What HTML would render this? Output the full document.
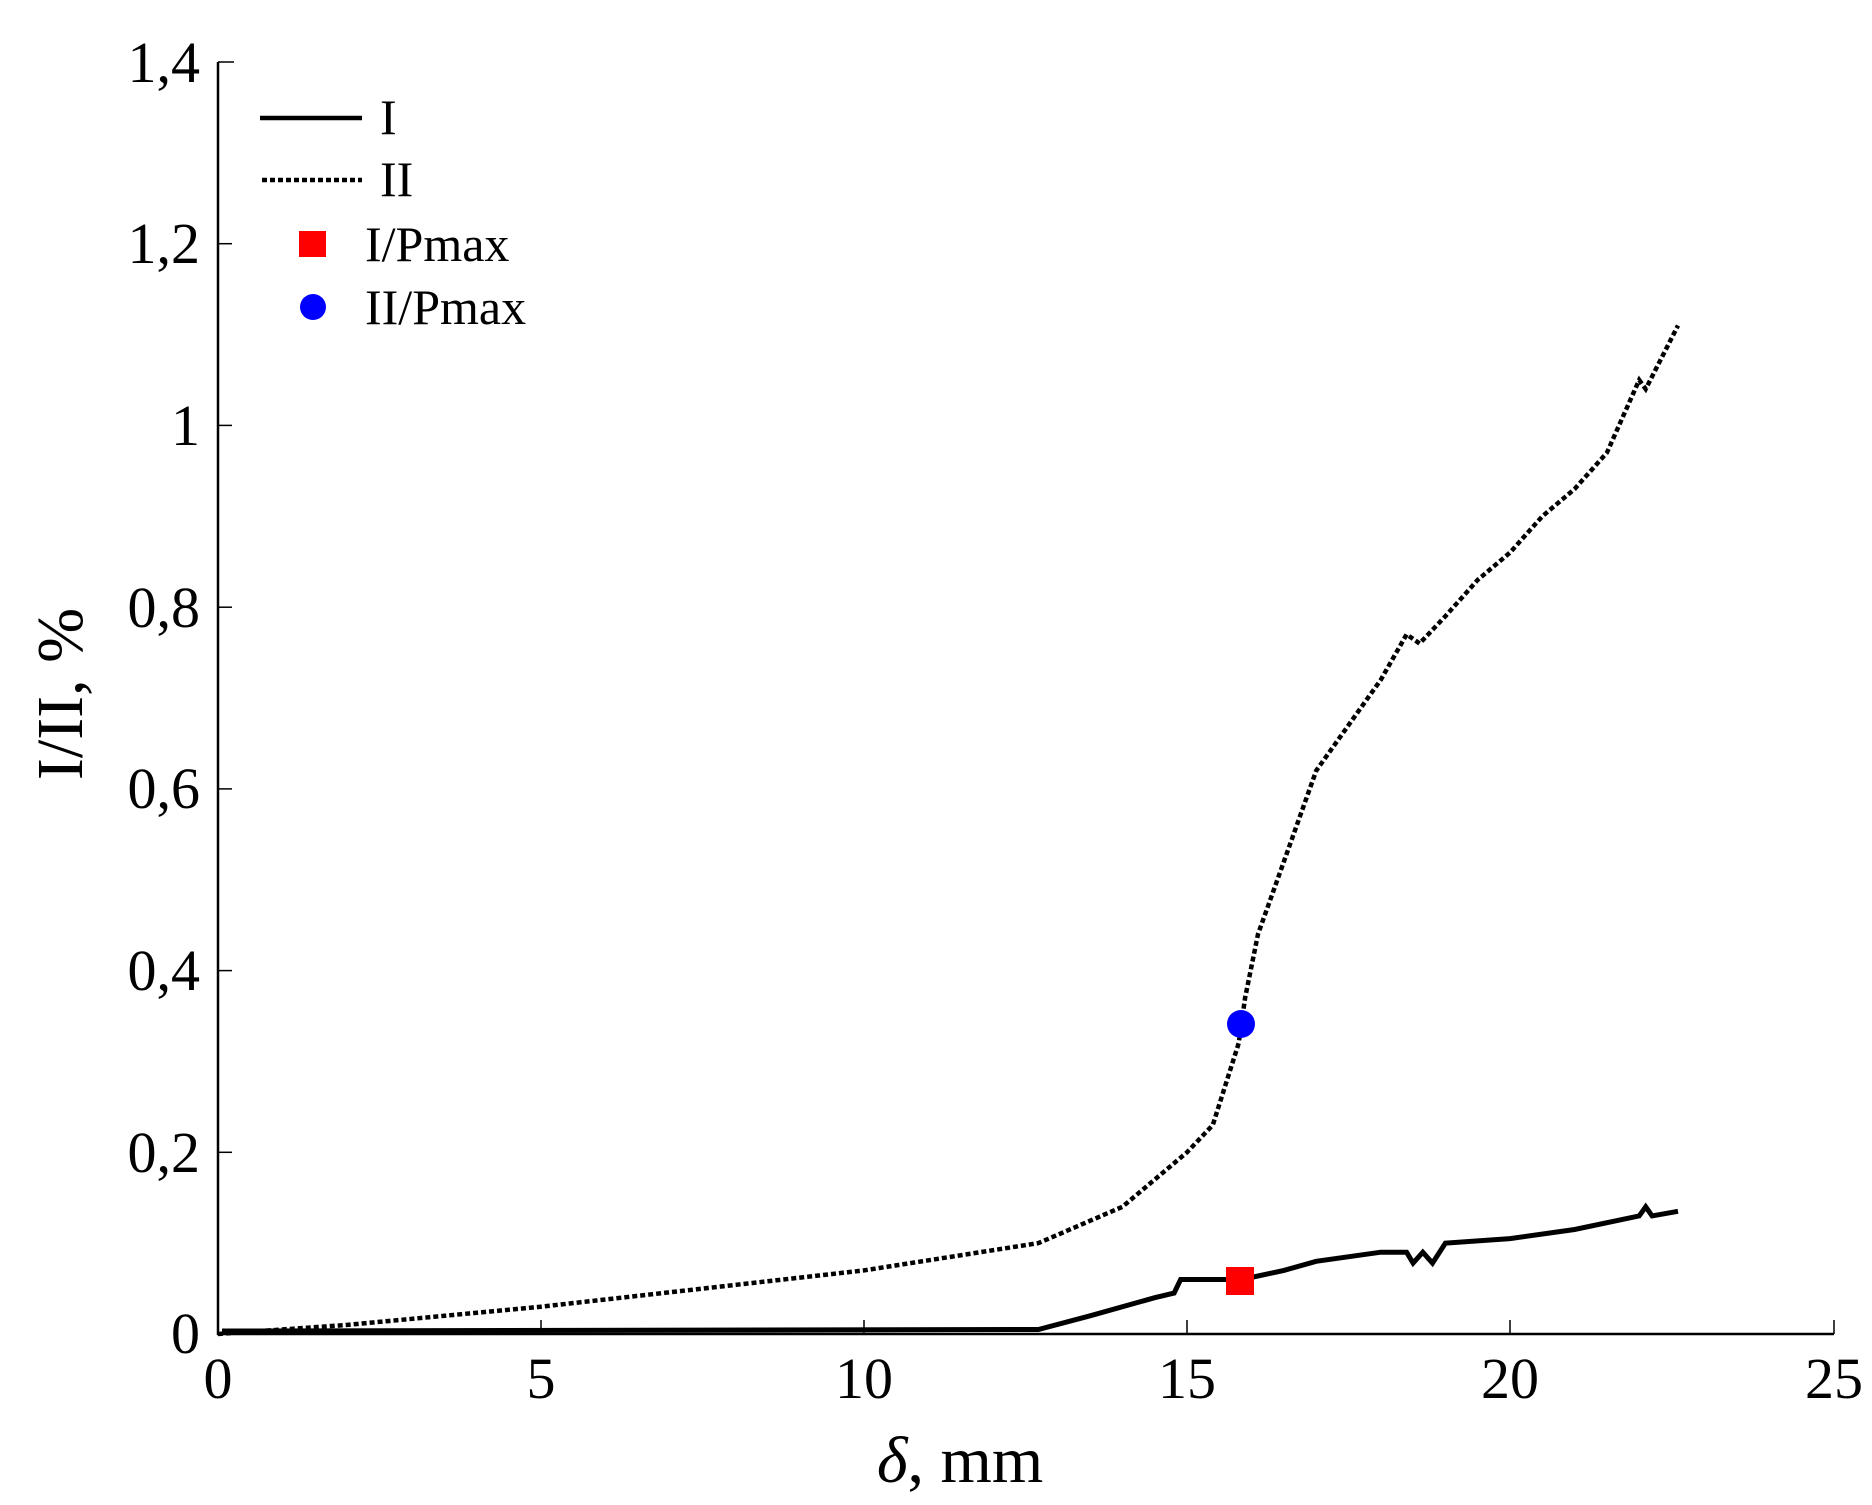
<!DOCTYPE html>
<html><head><meta charset="utf-8"><style>body{margin:0;background:#fff}svg{display:block}</style></head><body>
<svg width="1872" height="1505" xmlns="http://www.w3.org/2000/svg" font-family="'Liberation Serif', serif">
<rect width="1872" height="1505" fill="#fff"/>
<g stroke="#000" stroke-width="2.5" fill="none">
<line x1="218" y1="62" x2="218" y2="1335"/>
<line x1="217" y1="1334" x2="1834" y2="1334"/>
<g stroke-width="1.5">
<line x1="541" y1="1334" x2="541" y2="1320"/><line x1="864" y1="1334" x2="864" y2="1320"/><line x1="1187" y1="1334" x2="1187" y2="1320"/><line x1="1510" y1="1334" x2="1510" y2="1320"/><line x1="1834" y1="1334" x2="1834" y2="1320"/>
<line x1="218" y1="62" x2="234" y2="62"/><line x1="218" y1="243.7" x2="232" y2="243.7"/><line x1="218" y1="425.4" x2="232" y2="425.4"/><line x1="218" y1="607.2" x2="232" y2="607.2"/><line x1="218" y1="788.9" x2="232" y2="788.9"/><line x1="218" y1="970.6" x2="232" y2="970.6"/><line x1="218" y1="1152.3" x2="232" y2="1152.3"/>
</g>
</g>
<g font-size="58" text-anchor="end" fill="#000">
<text x="200" y="82">1,4</text><text x="200" y="263">1,2</text><text x="200" y="445">1</text><text x="200" y="627">0,8</text><text x="200" y="808">0,6</text><text x="200" y="990">0,4</text><text x="200" y="1172">0,2</text><text x="200" y="1353">0</text>
</g>
<g font-size="58" text-anchor="middle" fill="#000">
<text x="218" y="1398">0</text><text x="541" y="1398">5</text><text x="864" y="1398">10</text><text x="1187" y="1398">15</text><text x="1510" y="1398">20</text><text x="1834" y="1398">25</text>
</g>
<g font-size="66" text-anchor="middle" fill="#000">
<text x="960" y="1482"><tspan font-style="italic">δ</tspan>, mm</text>
<text transform="translate(82,694) rotate(-90)">I/II, %</text>
</g>
<polyline fill="none" stroke="#000" stroke-width="4.5" stroke-dasharray="5,3" points="218,1334 347.2,1324.9 541,1306.7 702.5,1288.6 864,1270.4 1038.4,1243.1 1122.4,1206.8 1187,1152.3 1212.8,1125 1238.7,1043.2 1245.1,997.8 1258,934.2 1283.9,861.5 1316.2,770.7 1348.5,725.2 1380.8,679.8 1406.6,634.4 1419.6,643.5 1445.4,616.2 1477.7,579.9 1510,552.6 1542.3,516.3 1574.6,489 1606.9,452.7 1639.2,380 1645.7,389.1 1678,325.5"/>
<polyline fill="none" stroke="#000" stroke-width="5" points="222,1331 1038.4,1329.5 1090.1,1315.8 1154.7,1297.7 1174.1,1293.1 1180.6,1279.5 1241.9,1279.5 1283.9,1270.4 1316.2,1261.3 1380.8,1252.2 1406.6,1252.2 1413.1,1263.1 1422.8,1252.2 1432.5,1263.1 1445.4,1243.1 1510,1238.6 1574.6,1229.5 1639.2,1215.9 1645.7,1206.8 1652.1,1215.9 1678,1211.3"/>
<rect x="1226" y="1267" width="28" height="28" fill="#f00"/>
<circle cx="1241" cy="1024" r="14" fill="#00f"/>
<line x1="260" y1="118" x2="362" y2="118" stroke="#000" stroke-width="4.5"/>
<line x1="262" y1="180" x2="362" y2="180" stroke="#000" stroke-width="4.5" stroke-dasharray="5,3"/>
<rect x="299" y="231" width="27" height="26" fill="#f00"/>
<circle cx="313" cy="307" r="13" fill="#00f"/>
<g font-size="50" fill="#000">
<text x="380" y="134">I</text><text x="380" y="196">II</text><text x="365" y="261">I/Pmax</text><text x="365" y="324">II/Pmax</text>
</g>
</svg>
</body></html>
